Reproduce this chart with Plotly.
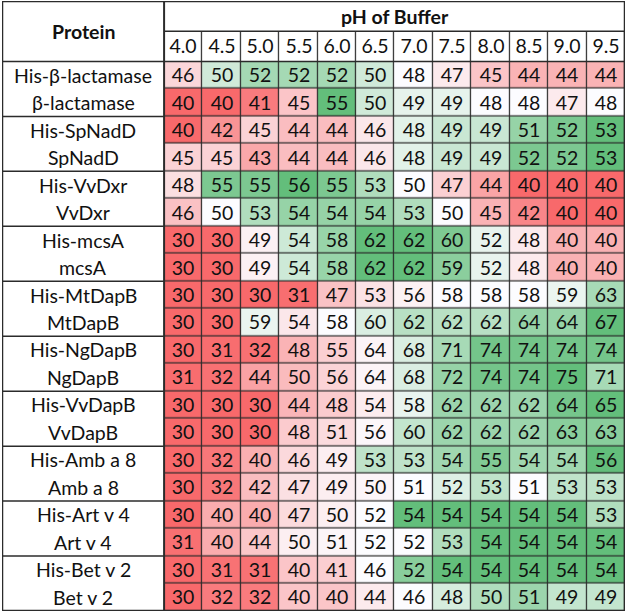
import numpy as np
import plotly.graph_objects as go

proteins = ["His-β-lactamase", "β-lactamase", "His-SpNadD", "SpNadD",
            "His-VvDxr", "VvDxr", "His-mcsA", "mcsA", "His-MtDapB", "MtDapB",
            "His-NgDapB", "NgDapB", "His-VvDapB", "VvDapB", "His-Amb a 8", "Amb a 8",
            "His-Art v 4", "Art v 4", "His-Bet v 2", "Bet v 2"]
ph_labels = ["4.0", "4.5", "5.0", "5.5", "6.0", "6.5", "7.0", "7.5", "8.0", "8.5", "9.0", "9.5"]

his_b_lactamase = [46, 50, 52, 52, 52, 50, 48, 47, 45, 44, 44, 44]
b_lactamase     = [40, 40, 41, 45, 55, 50, 49, 49, 48, 48, 47, 48]
his_spnadd      = [40, 42, 45, 44, 44, 46, 48, 49, 49, 51, 52, 53]
spnadd          = [45, 45, 43, 44, 44, 46, 48, 49, 49, 52, 52, 53]
his_vvdxr       = [48, 55, 55, 56, 55, 53, 50, 47, 44, 40, 40, 40]
vvdxr           = [46, 50, 53, 54, 54, 54, 53, 50, 45, 42, 40, 40]
his_mcsa        = [30, 30, 49, 54, 58, 62, 62, 60, 52, 48, 40, 40]
mcsa            = [30, 30, 49, 54, 58, 62, 62, 59, 52, 48, 40, 40]
his_mtdapb      = [30, 30, 30, 31, 47, 53, 56, 58, 58, 58, 59, 63]
mtdapb          = [30, 30, 59, 54, 58, 60, 62, 62, 62, 64, 64, 67]
his_ngdapb      = [30, 31, 32, 48, 55, 64, 68, 71, 74, 74, 74, 74]
ngdapb          = [31, 32, 44, 50, 56, 64, 68, 72, 74, 74, 75, 71]
his_vvdapb      = [30, 30, 30, 44, 48, 54, 58, 62, 62, 62, 64, 65]
vvdapb          = [30, 30, 30, 48, 51, 56, 60, 62, 62, 62, 63, 63]
his_amba8       = [30, 32, 40, 46, 49, 53, 53, 54, 55, 54, 54, 56]
amba8           = [30, 32, 42, 47, 49, 50, 51, 52, 53, 51, 53, 53]
his_artv4       = [30, 40, 40, 47, 50, 52, 54, 54, 54, 54, 54, 53]
artv4           = [31, 40, 44, 50, 51, 52, 52, 53, 54, 54, 54, 54]
his_betv2       = [30, 31, 31, 40, 41, 46, 52, 54, 54, 54, 54, 54]
betv2           = [30, 32, 32, 40, 40, 44, 46, 48, 50, 51, 49, 49]

values = np.array([his_b_lactamase, b_lactamase, his_spnadd, spnadd, his_vvdxr, vvdxr,
                   his_mcsa, mcsa, his_mtdapb, mtdapb, his_ngdapb, ngdapb,
                   his_vvdapb, vvdapb, his_amba8, amba8, his_artv4, artv4,
                   his_betv2, betv2], dtype=float)

# per-pair 3-colour scale (min -> red, median -> white, max -> green)
norm = np.zeros_like(values)
for p in range(0, values.shape[0], 2):
    block = values[p:p + 2]
    lo, mid, hi = block.min(), np.median(block), block.max()
    n = np.where(block < mid, 0.5 * (block - lo) / (mid - lo),
                 0.5 + 0.5 * (block - mid) / (hi - mid))
    norm[p:p + 2] = n

nrows, ncols = values.shape
H = 1.1          # header row height in row units
L = 4.22         # label column width in column units
FONT = "Lato"
FS = 19.5
DARK = "#2b2b2b"

top = -0.5 - 2 * H
xl = -0.5 - L

fig = go.Figure()

fig.add_trace(go.Heatmap(
    z=norm, x=list(range(ncols)), y=list(range(nrows)),
    text=values.astype(int).astype(str), texttemplate="%{text}",
    textfont=dict(family=FONT, size=FS, color="#111"),
    colorscale=[[0, "#F8696B"], [0.5, "#FCFCFF"], [1, "#63BE7B"]],
    zmin=0, zmax=1, showscale=False, xgap=1.2, ygap=1.2, hoverinfo="skip"))

fig.add_trace(go.Heatmap(
    z=[[0] * ncols], x=[i - 0.5 for i in range(ncols + 1)], y=[-0.5 - H, -0.5],
    text=[ph_labels], texttemplate="%{text}",
    textfont=dict(family=FONT, size=FS, color="#111"),
    colorscale=[[0, "white"], [1, "white"]], showscale=False,
    xgap=1.2, ygap=0, hoverinfo="skip"))

shapes = [
    dict(type="rect", xref="x", yref="y", x0=-0.5, x1=ncols - 0.5, y0=-0.5 - H, y1=nrows - 0.5,
         fillcolor=DARK, line=dict(width=0), layer="below"),
    dict(type="line", xref="x", yref="y", x0=-0.5, x1=ncols - 0.5, y0=-0.5 - H, y1=-0.5 - H,
         line=dict(color=DARK, width=1.5)),
    dict(type="line", xref="x", yref="y", x0=xl, x1=ncols - 0.5, y0=-0.5, y1=-0.5,
         line=dict(color=DARK, width=1.5)),
    dict(type="line", xref="x", yref="y", x0=-0.5, x1=-0.5, y0=top, y1=nrows - 0.5,
         line=dict(color=DARK, width=2)),
    dict(type="rect", xref="x", yref="y", x0=xl, x1=ncols - 0.5, y0=top, y1=nrows - 0.5,
         line=dict(color=DARK, width=2.5)),
]
for p in range(2, nrows, 2):
    shapes.append(dict(type="line", xref="x", yref="y", x0=xl, x1=-0.5, y0=p - 0.5, y1=p - 0.5,
                       line=dict(color=DARK, width=1.5)))

annotations = [dict(x=xl + L / 2, y=i, text=name, showarrow=False, xref="x", yref="y",
                    font=dict(family=FONT, size=FS, color="#111"))
               for i, name in enumerate(proteins)]
annotations.append(dict(x=(ncols - 1) / 2, y=-0.5 - 1.5 * H, text="<b>pH of Buffer</b>",
                        showarrow=False, xref="x", yref="y",
                        font=dict(family=FONT, size=FS, color="#111")))
annotations.append(dict(x=xl + L / 2, y=-0.5 - H, text="<b>Protein</b>",
                        showarrow=False, xref="x", yref="y",
                        font=dict(family=FONT, size=FS, color="#111")))

fig.update_layout(
    width=627, height=613,
    margin=dict(l=2, r=2, t=1, b=2),
    paper_bgcolor="white", plot_bgcolor="white",
    xaxis=dict(range=[xl, ncols - 0.5], visible=False, fixedrange=True),
    yaxis=dict(range=[nrows - 0.5, top], visible=False, fixedrange=True),
    shapes=shapes, annotations=annotations, showlegend=False,
)

fig.write_html("out.html", config={"displayModeBar": False},
               post_script="document.body.style.margin='0';document.body.style.overflow='hidden';")
